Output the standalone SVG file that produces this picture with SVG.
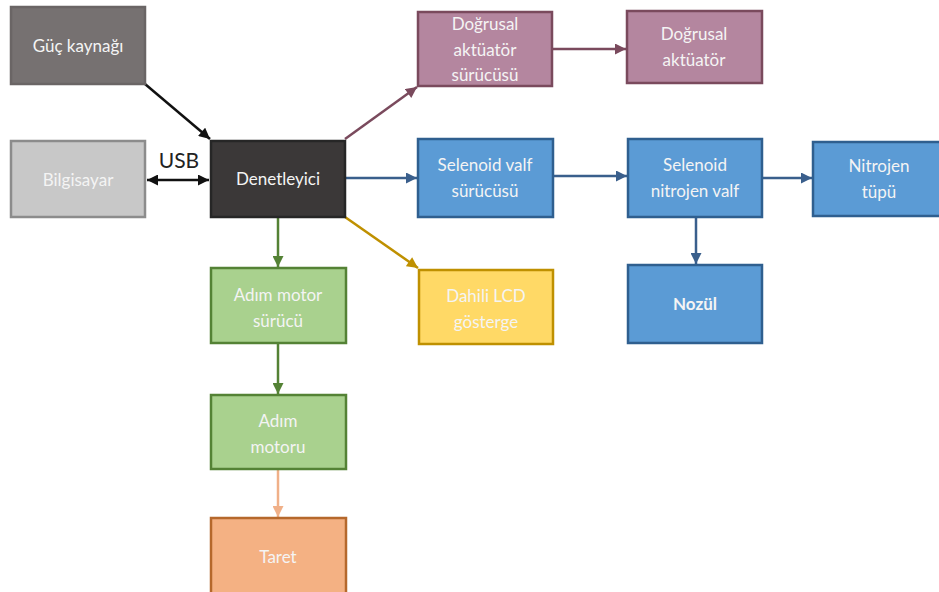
<svg xmlns="http://www.w3.org/2000/svg" width="939" height="592" viewBox="0 0 939 592">
<style>
  .box { stroke-width: 2.5; }
  .t { font-family: Lato, "Open Sans", "Liberation Sans", sans-serif; font-size: 17px; fill: #f4f4f4; text-anchor: middle; }
  .c { fill: none; stroke-width: 2.5; }
</style>
<defs>
  <marker id="aK" viewBox="0 0 10 10" refX="10" refY="5" markerWidth="12" markerHeight="11" markerUnits="userSpaceOnUse" orient="auto-start-reverse"><path d="M0,0 L10,5 L0,10 z" fill="#111"/></marker>
  <marker id="aM" viewBox="0 0 10 10" refX="10" refY="5" markerWidth="12" markerHeight="11" markerUnits="userSpaceOnUse" orient="auto"><path d="M0,0 L10,5 L0,10 z" fill="#7a4a5d"/></marker>
  <marker id="aB" viewBox="0 0 10 10" refX="10" refY="5" markerWidth="12" markerHeight="11" markerUnits="userSpaceOnUse" orient="auto"><path d="M0,0 L10,5 L0,10 z" fill="#3a5f8c"/></marker>
  <marker id="aG" viewBox="0 0 10 10" refX="10" refY="5" markerWidth="12" markerHeight="11" markerUnits="userSpaceOnUse" orient="auto"><path d="M0,0 L10,5 L0,10 z" fill="#548235"/></marker>
  <marker id="aY" viewBox="0 0 10 10" refX="10" refY="5" markerWidth="12" markerHeight="11" markerUnits="userSpaceOnUse" orient="auto"><path d="M0,0 L10,5 L0,10 z" fill="#bf9000"/></marker>
  <marker id="aO" viewBox="0 0 10 10" refX="10" refY="5" markerWidth="12" markerHeight="11" markerUnits="userSpaceOnUse" orient="auto"><path d="M0,0 L10,5 L0,10 z" fill="#f0b088"/></marker>
</defs>
<rect width="939" height="592" fill="#ffffff"/>

<g id="connectors">
  <line class="c" x1="145" y1="84" x2="210" y2="139" stroke="#111" marker-end="url(#aK)"/>
  <line class="c" x1="147" y1="180" x2="209" y2="180" stroke="#111" marker-start="url(#aK)" marker-end="url(#aK)"/>
  <line class="c" x1="345" y1="139" x2="417" y2="87" stroke="#7a4a5d" marker-end="url(#aM)"/>
  <line class="c" x1="552" y1="49" x2="626" y2="49" stroke="#7a4a5d" marker-end="url(#aM)"/>
  <line class="c" x1="345" y1="178" x2="417" y2="178" stroke="#3a5f8c" marker-end="url(#aB)"/>
  <line class="c" x1="553" y1="176" x2="627" y2="176" stroke="#3a5f8c" marker-end="url(#aB)"/>
  <line class="c" x1="762" y1="178" x2="812" y2="178" stroke="#3a5f8c" marker-end="url(#aB)"/>
  <line class="c" x1="696" y1="217" x2="696" y2="264" stroke="#3a5f8c" marker-end="url(#aB)"/>
  <line class="c" x1="278" y1="217" x2="278" y2="267" stroke="#548235" marker-end="url(#aG)"/>
  <line class="c" x1="278" y1="343" x2="278" y2="394" stroke="#548235" marker-end="url(#aG)"/>
  <line class="c" x1="278" y1="469" x2="278" y2="517" stroke="#f0b088" marker-end="url(#aO)"/>
  <line class="c" x1="345" y1="217" x2="418" y2="268" stroke="#bf9000" marker-end="url(#aY)"/>
  <text x="179" y="168" font-family="Lato, 'Open Sans', 'Liberation Sans', sans-serif" font-size="21" fill="#222" text-anchor="middle">USB</text>
</g>

<g id="guc">
  <rect class="box" x="11" y="7" width="134" height="77" fill="#767171" stroke="#6a6565"/>
  <text class="t" x="78" y="52">Güç kaynağı</text>
</g>
<g id="bilgisayar">
  <rect class="box" x="11" y="141" width="134" height="76" fill="#c8c8c8" stroke="#8c8c8c"/>
  <text class="t" x="78" y="186">Bilgisayar</text>
</g>
<g id="denetleyici">
  <rect class="box" x="211" y="141" width="134" height="76" fill="#3b3838" stroke="#262626"/>
  <text class="t" x="278" y="185">Denetleyici</text>
</g>
<g id="dogrusal-surucu">
  <rect class="box" x="418" y="12" width="134" height="74" fill="#b4869f" stroke="#7a4a5d"/>
  <text class="t" x="485" y="30">Doğrusal</text>
  <text class="t" x="485" y="56">aktüatör</text>
  <text class="t" x="485" y="81">sürücüsü</text>
</g>
<g id="dogrusal">
  <rect class="box" x="627" y="11" width="135" height="72" fill="#b4869f" stroke="#7a4a5d"/>
  <text class="t" x="694" y="40">Doğrusal</text>
  <text class="t" x="694" y="66">aktüatör</text>
</g>
<g id="selenoid-surucu">
  <rect class="box" x="418" y="139" width="135" height="78" fill="#5b9bd5" stroke="#2f5f8f"/>
  <text class="t" x="485" y="171">Selenoid valf</text>
  <text class="t" x="485" y="197">sürücüsü</text>
</g>
<g id="selenoid-valf">
  <rect class="box" x="628" y="139" width="134" height="78" fill="#5b9bd5" stroke="#2f5f8f"/>
  <text class="t" x="695" y="171">Selenoid</text>
  <text class="t" x="695" y="197">nitrojen valf</text>
</g>
<g id="nitrojen">
  <rect class="box" x="813" y="142" width="130" height="74" fill="#5b9bd5" stroke="#2f5f8f"/>
  <text class="t" x="879" y="172">Nitrojen</text>
  <text class="t" x="879" y="198">tüpü</text>
</g>
<g id="nozul">
  <rect class="box" x="628" y="265" width="134" height="78" fill="#5b9bd5" stroke="#2f5f8f"/>
  <text class="t" x="695" y="310" font-weight="bold">Nozül</text>
</g>
<g id="adim-surucu">
  <rect class="box" x="211" y="268" width="135" height="75" fill="#a9d18e" stroke="#548235"/>
  <text class="t" x="278" y="301">Adım motor</text>
  <text class="t" x="278" y="327">sürücü</text>
</g>
<g id="adim-motoru">
  <rect class="box" x="211" y="395" width="135" height="74" fill="#a9d18e" stroke="#548235"/>
  <text class="t" x="278" y="427">Adım</text>
  <text class="t" x="278" y="453">motoru</text>
</g>
<g id="taret">
  <rect class="box" x="211" y="518" width="135" height="76" fill="#f4b183" stroke="#b5682c"/>
  <text class="t" x="278" y="563">Taret</text>
</g>
<g id="lcd">
  <rect class="box" x="419" y="270" width="134" height="74" fill="#ffd966" stroke="#bf9000"/>
  <text class="t" x="486" y="302" fill="#fff4cf">Dahili LCD</text>
  <text class="t" x="486" y="328" fill="#fff4cf">gösterge</text>
</g>
</svg>
